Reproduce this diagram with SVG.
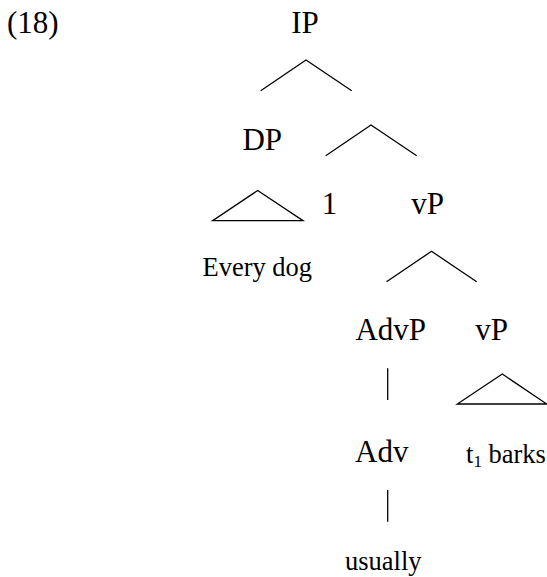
<svg xmlns="http://www.w3.org/2000/svg" width="547" height="577" viewBox="0 0 547 577">
<style>
text{fill:#000;font-family:'Liberation Serif','Times New Roman',serif}
.lab{font-size:31px}
.leaf{font-size:26.5px}
.m{text-anchor:middle}
.br{fill:none;stroke:#000;stroke-width:1.3;stroke-linejoin:miter}
</style>
<rect width="547" height="577" fill="#fff"/>
<g id="example-number"><text class="lab" x="7" y="33.3">(18)</text></g>
<g id="IP"><text class="lab m" x="305" y="33.3">IP</text></g>
<g id="DP"><text class="lab m" x="262.3" y="150">DP</text></g>
<g id="index"><text class="lab m" x="329.5" y="214">1</text></g>
<g id="vP1"><text class="lab m" x="427.5" y="214">vP</text></g>
<g id="every-dog"><text class="leaf m" x="257.3" y="275.7">Every dog</text></g>
<g id="AdvP"><text class="lab m" x="390.7" y="340">AdvP</text></g>
<g id="vP2"><text class="lab m" x="491.7" y="340">vP</text></g>
<g id="Adv"><text class="lab m" x="381.7" y="461.7">Adv</text></g>
<g id="t1-barks"><text class="leaf" x="466" y="463.3">t<tspan font-size="17" dy="3.5">1</tspan><tspan dy="-3.5"> barks</tspan></text></g>
<g id="usually"><text class="leaf m" x="383.3" y="570">usually</text></g>
<g id="connectors">
<polyline class="br" points="260.7,90.7 306,60 351.7,90.7"/>
<polyline class="br" points="325.7,155.7 371,125 416.7,155.7"/>
<polygon class="br" points="257.7,190.5 212.7,220.7 303,220.7"/>
<polyline class="br" points="386.5,281.7 431.5,251.3 476.7,281.7"/>
<polygon class="br" points="502.3,374 457.3,404 546.7,404"/>
<line class="br" x1="387.7" y1="368.3" x2="387.7" y2="400"/>
<line class="br" x1="387.7" y1="490" x2="387.7" y2="521.7"/>
</g>
</svg>
